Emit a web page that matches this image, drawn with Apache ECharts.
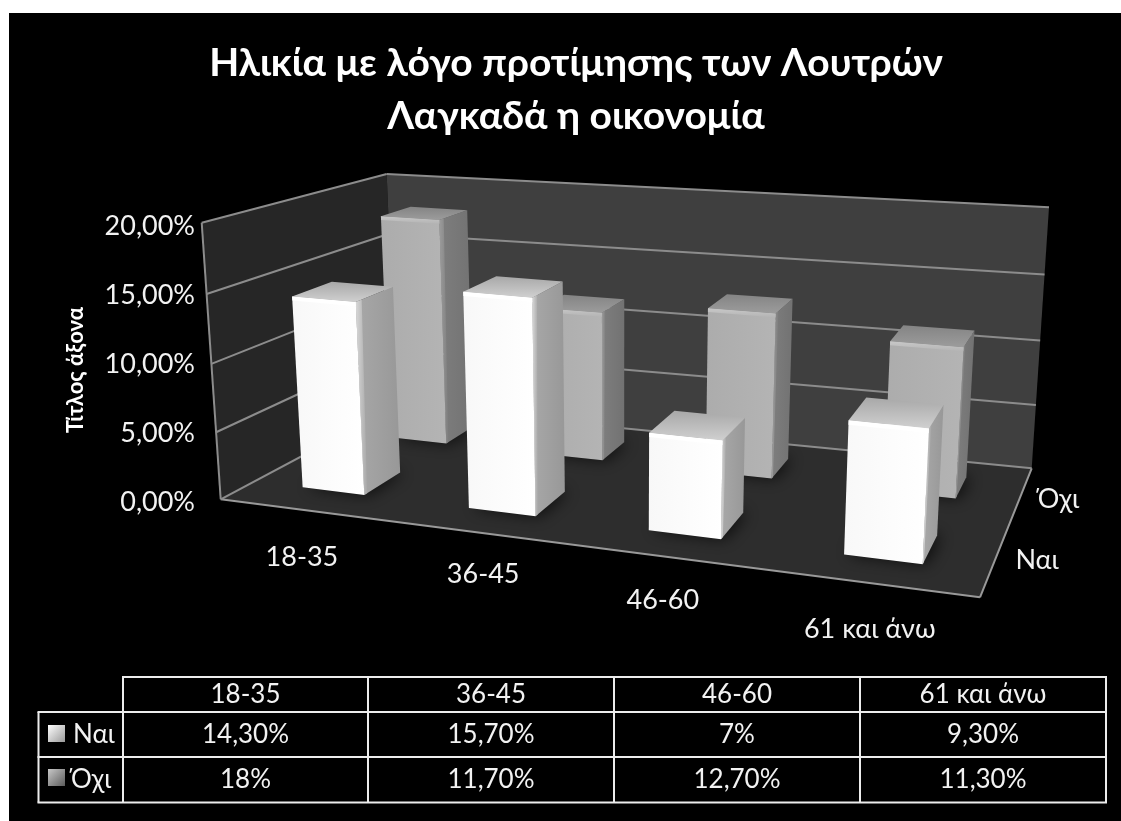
<!DOCTYPE html>
<html><head><meta charset="utf-8">
<style>html,body{margin:0;padding:0;background:#fff;overflow:hidden}
#plate{position:absolute;left:9px;top:13px;width:1112px;height:808px;background:#000}
#chart{position:absolute;left:0;top:0;width:1121px;height:821px}</style>
<script src="https://cdn.jsdelivr.net/npm/echarts@6/dist/echarts.min.js"></script>
</head><body><div id="plate"></div><div id="chart"></div>
<script>
var titleLines = ['Ηλικία με λόγο προτίμησης των Λουτρών', 'Λαγκαδά η οικονομία'];
var axisTitle = 'Τίτλος άξονα';
var categories = ['18-35', '36-45', '46-60', '61 και άνω'];
var seriesNames = ['Ναι', 'Όχι'];
var yes = [14.3, 15.7, 7, 9.3];
var no = [18, 11.7, 12.7, 11.3];
var yTicks = [0, 5, 10, 15, 20];
var FONT = 'Lato, "Noto Sans", sans-serif';

var C = { // the box's eight corners on the page
  flb:[220.7,499.3], frb:[980,597.3], blb:[396,406], brb:[1031.7,468.3],
  flt:[201.7,222.7], frt:[996.6,286.3], blt:[386.7,174], brt:[1049,207.3]
};
function warp(t,a){return a*t/(1+(a-1)*t);}
function mix(a,b,t){return [a[0]+(b[0]-a[0])*t,a[1]+(b[1]-a[1])*t];}
function projector(api){
  var o=api.coord([0,0]), e=api.coord([4,20]);
  return function(cat,val,z){
    var p=api.coord([cat,val]);
    var u=warp((p[0]-o[0])/(e[0]-o[0]),0.85), v=warp((p[1]-o[1])/(e[1]-o[1]),0.96), w=warp(z,1.35);
    var fb=mix(C.flb,C.frb,u), ft=mix(C.flt,C.frt,u), bb=mix(C.blb,C.brb,u), bt=mix(C.blt,C.brt,u);
    return mix(mix(fb,ft,v),mix(bb,bt,v),w);
  };
}
function pct(v){return (v%1===0? String(v): v.toFixed(2).replace('.',','))+'%';}
function grad(x0,y0,x1,y1,c0,c1){return {type:'linear',x:x0,y:y0,x2:x1,y2:y1,colorStops:[{offset:0,color:c0},{offset:1,color:c1}]};}
function poly(points,fill,extra){var s={fill:fill};if(extra)for(var k in extra)s[k]=extra[k];return {type:'polygon',shape:{points:points},style:s};}
function line(a,b,c,w){return {type:'line',shape:{x1:a[0],y1:a[1],x2:b[0],y2:b[1]},style:{stroke:c,lineWidth:w||1.5,fill:null}};}

function renderWalls(params,api){
  var P=projector(api), t=api.value(0), ch=[];
  if(params.dataIndex===0){
    ch.push(poly([P(0,0,0),P(0,20,0),P(0,20,1),P(0,0,1)],'#262626'));
    ch.push(poly([P(0,0,1),P(0,20,1),P(4,20,1),P(4,0,1)],'#3f3f3f'));
    ch.push(poly([P(0,0,0),P(0,0,1),P(4,0,1),P(4,0,0)],'#2d2d2d'));
    ch.push(line(P(0,0,0),P(0,20,0),'#8c8c8c',2));
    ch.push(line(P(0,0,0),P(4,0,0),'#999',2));
    ch.push(line(P(4,0,0),P(4,0,1),'#999',2));
  }
  ch.push(line(P(0,t,0),P(0,t,1),'#8c8c8c',2));
  ch.push(line(P(0,t,1),P(4,t,1),'#8c8c8c',2));
  return {type:'group',children:ch};
}
var HW=0.19, HD=0.1;
var looks=[
 {front:['#f8f8f8','#ffffff'],side:['#a8a8a8','#989898'],top:['#d0d0d0','#a8a8a8'],edge:'#ffffff',sideEdge:'#d8d8d8'},
 {front:['#acacac','#b4b4b4'],side:['#7e7e7e','#727272'],top:['#9c9c9c','#848484'],edge:'#c8c8c8',sideEdge:'#9c9c9c'}
];
function barRenderer(row,zc){
  return function(params,api){
    var P=projector(api), c=api.value(0), val=api.value(1), L=looks[row];
    var x0=c+0.495-HW, x1=c+0.495+HW, z0=zc-HD, z1=zc+HD;
    var a=P(x0,0,z0), b=P(x1,0,z0), d=P(x1,0,z1), e=P(x0,0,z1);
    var at=P(x0,val,z0), bt=P(x1,val,z0), dt=P(x1,val,z1), et=P(x0,val,z1);
    var bev=P(x0,val-0.3,z0), bev2=P(x1,val-0.3,z0), st=P(x1,val,z0+0.03), sb0=P(x1,0,z0+0.015);
    return {type:'group',children:[
      poly([a,b,d,e],'rgba(0,0,0,0.7)',{shadowBlur:16,shadowColor:'rgba(0,0,0,1)',shadowOffsetX:4}),
      poly([b,bt,dt,d],grad(0,0,1,0,L.side[0],L.side[1])),
      poly([b,bt,st,sb0],grad(0,0,1,0,L.sideEdge,L.side[0])),
      poly([at,bt,dt,et],grad(0,1,0,0,L.top[0],L.top[1])),
      poly([a,at,bt,b],grad(0,0,1,0,L.front[0],L.front[1])),
      poly([at,bt,bev2,bev],grad(0,0,0,1,L.edge,L.front[1]))
    ]};
  };
}
var catNudge=[[-5,-1],[2,-6],[-7,-4],[-5,-2]];
function renderCatLabel(params,api){
  var P=projector(api), i=api.value(0), p=P(i+0.5,0,0);
  return {type:'text',style:{text:categories[i],x:p[0]+4+catNudge[i][0],y:p[1]+48+catNudge[i][1],fill:'#f2f2f2',font:'27px '+FONT,align:'center',verticalAlign:'middle'}};
}
var depthNudge=[[41,3],[37,5]];
function renderDepthLabel(params,api){
  var P=projector(api), i=api.value(0), p=P(4,0,i===0?0.25:0.75);
  return {type:'text',style:{text:seriesNames[i],x:p[0]+depthNudge[i][0],y:p[1]+depthNudge[i][1],fill:'#f2f2f2',font:'27px '+FONT,align:'center',verticalAlign:'middle'}};
}

// data table
var colX=[123,368,614,860,1106], rowY=[677,712,757,802.5], leftX=38.5;
var g=[];
function gl(x1,y1,x2,y2){g.push({type:'line',shape:{x1:x1,y1:y1,x2:x2,y2:y2},style:{stroke:'#ececec',lineWidth:2}});}
function gt(s,x,y,al){g.push({type:'text',x:x,y:y,style:{text:s,fill:'#f2f2f2',font:'26px '+FONT,align:al||'center',verticalAlign:'middle'}});}
colX.forEach(function(x){gl(x,rowY[0],x,rowY[3]);});
rowY.forEach(function(y,i){gl(i===0?colX[0]-1:leftX-1,y,colX[4]+1,y);});
gl(leftX,rowY[1],leftX,rowY[3]);
categories.forEach(function(c,i){
  var cx=(colX[i]+colX[i+1])/2;
  gt(c,cx,695);
  gt(pct(yes[i]),cx,735);
  gt(pct(no[i]),cx,780);
});
seriesNames.forEach(function(n,r){
  var cy=r===0?734:778;
  g.push({type:'rect',shape:{x:48,y:cy-9,width:17,height:17},style:{fill:r===0?grad(0,0,1,1,'#ffffff','#9a9a9a'):grad(0,0,1,1,'#c8c8c8','#5c5c5c')}});
  gt(n,r===0?73:71,r===0?735:780,'left');
});

var chart=echarts.init(document.getElementById('chart'),null,{renderer:'canvas'});
chart.setOption({
  backgroundColor:'transparent',animation:false,
  title:{text:titleLines.join('\n'),left:571,top:32,textAlign:'center',
    textStyle:{color:'#fff',fontFamily:FONT,fontWeight:'bold',fontSize:39,lineHeight:53}},
  grid:{left:200,top:226,width:780,height:276,containLabel:false},
  xAxis:{type:'value',min:0,max:4,show:false},
  yAxis:{type:'value',min:0,max:20,interval:5,
    name:axisTitle,nameLocation:'middle',nameRotate:90,nameGap:113,
    nameTextStyle:{color:'#fff',fontFamily:FONT,fontWeight:'bold',fontSize:22,padding:[0,12,0,0]},
    axisLine:{show:false},axisTick:{show:false},splitLine:{show:false},
    axisLabel:{color:'#f2f2f2',fontFamily:FONT,fontSize:27,margin:5,
      formatter:function(v){return v.toFixed(2).replace('.',',')+'%';}}},
  graphic:g,
  series:[
    {type:'custom',name:'walls',z:1,clip:false,silent:true,renderItem:renderWalls,encode:{x:1,y:0},
     data:yTicks.map(function(t){return [t,0];}),dimensions:['t','x']},
    {type:'custom',name:seriesNames[1],z:2,renderItem:barRenderer(1,0.75),encode:{x:0,y:1},
     data:no.map(function(v,i){return [i,v];})},
    {type:'custom',name:seriesNames[0],z:3,renderItem:barRenderer(0,0.25),encode:{x:0,y:1},
     data:yes.map(function(v,i){return [i,v];})},
    {type:'custom',name:'catLabels',z:4,silent:true,renderItem:renderCatLabel,encode:{x:0},
     data:categories.map(function(c,i){return [i];})},
    {type:'custom',name:'depthLabels',z:4,silent:true,renderItem:renderDepthLabel,encode:{x:0},
     data:seriesNames.map(function(c,i){return [i];})}
  ]
});
</script></body></html>
